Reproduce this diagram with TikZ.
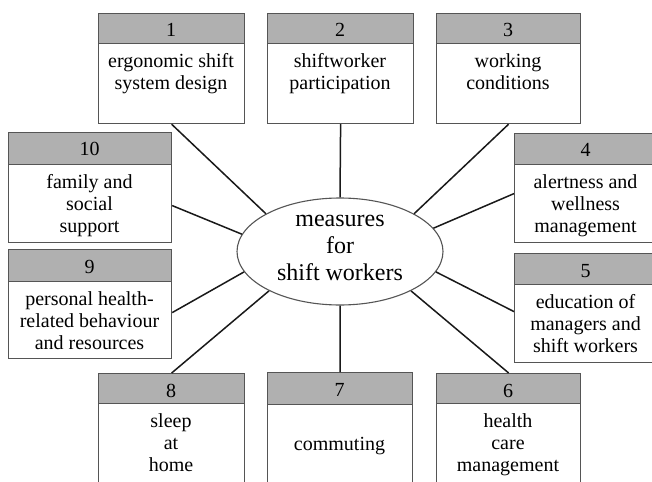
\documentclass[tikz,border=0pt]{standalone}
\usepackage{fontspec}
\setmainfont{Liberation Serif}
\usetikzlibrary{shapes.geometric,calc}
\definecolor{hdrgray}{RGB}{176,176,176}
\definecolor{edgegray}{RGB}{85,85,85}
\definecolor{linecol}{RGB}{25,25,25}
\tikzset{
  hdrbox/.style={draw=edgegray, line width=1.3pt, fill=hdrgray, inner sep=0pt, anchor=north west},
  bodybox/.style={draw=edgegray, line width=1.2pt, fill=white, inner sep=0pt, anchor=north west},
  numtxt/.style={font=\fontsize{20}{22}\selectfont, inner sep=0pt, anchor=base},
  boxtxt/.style={font=\fontsize{20}{22}\selectfont, align=center, inner sep=0pt, anchor=north},
  centertxt/.style={font=\fontsize{24}{27}\selectfont, align=center, inner sep=0pt, anchor=north},
  conn/.style={draw=linecol, line width=1.5pt},
}
% #1 id, #2 left x, #3 width, #4 top y, #5 header height, #6 body height, #7 number, #8 text
\newcommand\shiftbox[8]{%
  \node[bodybox, minimum width=#3, minimum height=#6] (w#1) at (#2,#4+#5) {};
  \node[hdrbox, minimum width=#3, minimum height=#5] (h#1) at (#2,#4) {};
  \node[numtxt] (n#1) at (#2+#3/2, #4+24) {#7};
  \node[boxtxt] (t#1) at (#2+#3/2, #4+#5+9) {\rule{0pt}{15pt}#8};
}
\begin{document}
\begin{tikzpicture}[x=1pt,y=-1pt]
\useasboundingbox (0,0) rectangle (652,481);
\fill[white] (0,0) rectangle (652,481);
% top row
\shiftbox{1}{98}{146}{13}{30}{80}{1}{ergonomic shift\\system design}
\shiftbox{2}{267}{146}{13}{30}{80}{2}{shiftworker\\participation}
\shiftbox{3}{436}{144}{13}{30}{80}{3}{working\\conditions}
% left column
\shiftbox{10}{8}{163}{132}{32}{78}{10}{family and\\social\\support}
\shiftbox{9}{8}{163}{249}{32}{77}{9}{personal health-\\related behaviour\\and resources}
% right column
\shiftbox{4}{514}{143}{133}{31}{78}{4}{alertness and\\wellness\\management}
\shiftbox{5}{514}{143}{253}{31}{78}{5}{education of\\managers and\\shift workers}
% bottom row
\shiftbox{8}{98}{146}{373}{30}{100}{8}{sleep\\at\\home}
\shiftbox{7}{267}{145}{372}{32}{100}{7}{\mbox{}\\commuting}
\shiftbox{6}{436}{144}{373}{30}{100}{6}{health\\care\\management}
% centre
\node[ellipse, draw=edgegray, line width=1.1pt, fill=white, minimum width=206pt, minimum height=107pt, inner sep=0pt] (c) at (340,251.5) {};
\node[centertxt] (ct) at (340,208) {\rule{0pt}{18pt}measures\\for\\shift workers};
% connectors
\draw[conn] (w1.south) -- (c.153);
\draw[conn] (w2.south) -- (c.90);
\draw[conn] (w3.south) -- (c.27);
\draw[conn] ([yshift=10pt]w4.west) -- (c.14);
\draw[conn] ([yshift=12pt]w5.west) -- (c.-12);
\draw[conn] (h6.north) -- (c.-29);
\draw[conn] (h7.north) -- (c.270);
\draw[conn] (h8.north) -- (c.209);
\draw[conn] ([yshift=7.5pt]w9.east) -- (c.192);
\draw[conn] ([yshift=-2pt]w10.east) -- (c.170);
\end{tikzpicture}
\end{document}
